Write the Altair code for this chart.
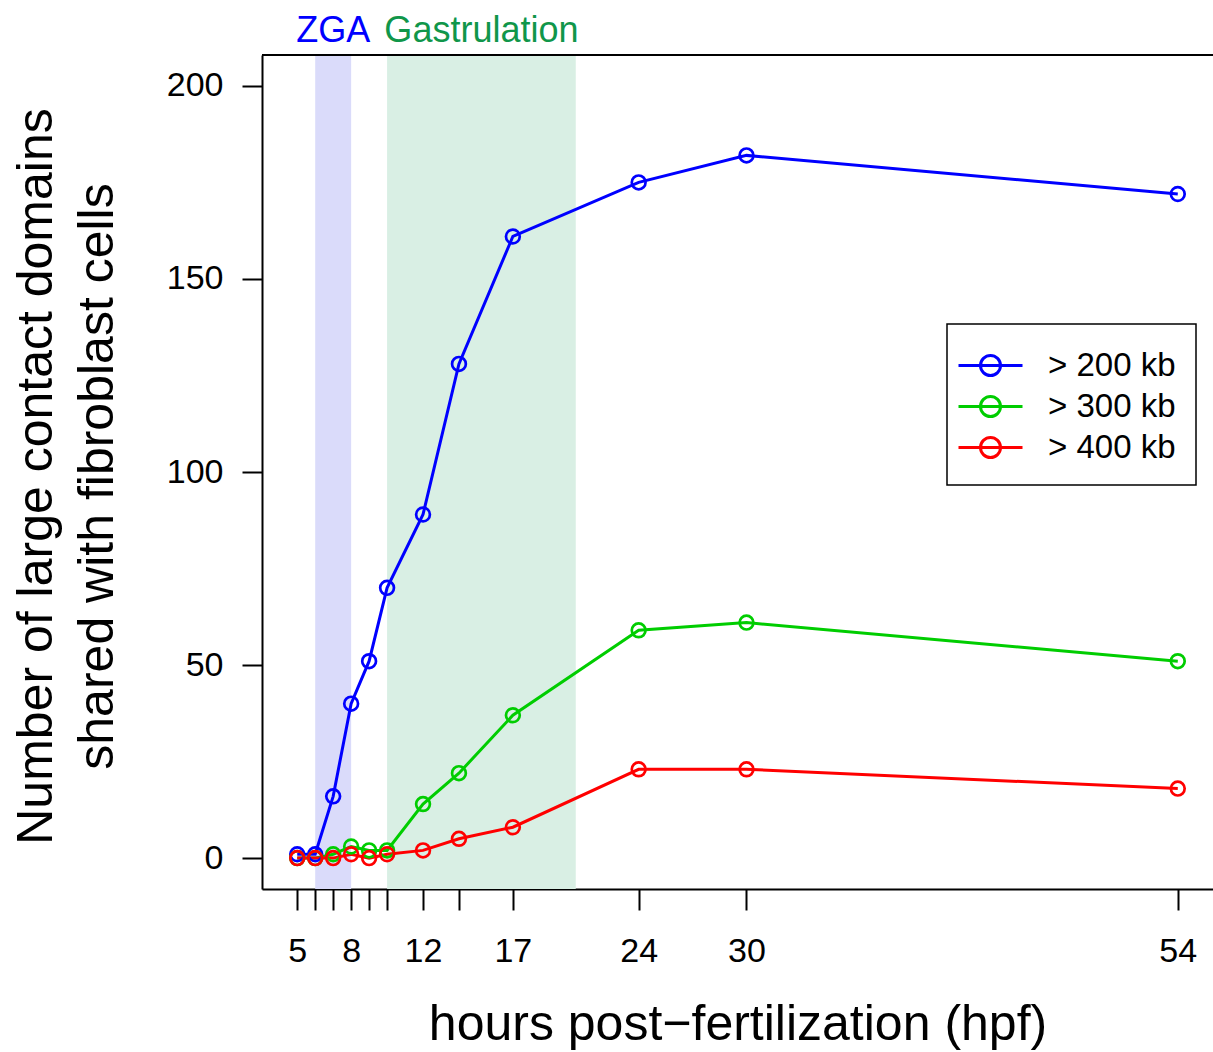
import json
import altair as alt
import pandas as pd

# ---- data ----
hours = [5, 6, 7, 8, 9, 10, 12, 14, 17, 24, 30, 54]
gt200 = [1, 1, 16, 40, 51, 70, 89, 128, 161, 175, 182, 172]
gt300 = [0, 0, 1, 3, 2, 2, 14, 22, 37, 59, 61, 51]
gt400 = [0, 0, 0, 1, 0, 1, 2, 5, 8, 23, 23, 18]
series_names = ["> 200 kb", "> 300 kb", "> 400 kb"]
labeled_hours = [5, 8, 12, 17, 24, 30, 54]
y_ticks = [0, 50, 100, 150, 200]

phase_names = ["ZGA", "Gastrulation"]
phase_start = [6, 10]
phase_end = [8, 20.5]

# ---- styles ----
series_colors = ["#0000FF", "#00CD00", "#FF0000"]
phase_fill = ["#DADBFA", "#D9EFE4"]
phase_text = ["#0000FF", "#10964A"]
FONT = "Liberation Sans"
W, H = 951, 834

rows = []
for name, vals in zip(series_names, [gt200, gt300, gt400]):
    for h, v in zip(hours, vals):
        rows.append({"hour": h, "count": v, "series": name})
df = pd.DataFrame(rows)

phases = pd.DataFrame({"phase": phase_names, "start": phase_start, "end": phase_end})

xscale = alt.Scale(domain=[3.04, 55.96], nice=False, zero=False)
yscale = alt.Scale(domain=[-8, 208], nice=False, zero=False)

label_expr = "indexof(%s, datum.value) >= 0 ? datum.label : ''" % json.dumps(labeled_hours)

xaxis = alt.Axis(
    values=hours, labelExpr=label_expr, grid=False,
    title="hours post\u2212fertilization (hpf)",
    titleFontSize=50, titleFont=FONT, titleFontWeight="normal", titleColor="black",
    titleBaseline="alphabetic", titleY=150,
    labelFontSize=34, labelFont=FONT, labelColor="black", labelPadding=24,
    labelOverlap=False, labelFlush=False,
    tickSize=21, tickWidth=2, tickColor="black",
    domainColor="black", domainWidth=2,
)
yaxis = alt.Axis(
    values=y_ticks, grid=False,
    title=["Number of large contact domains", "shared with fibroblast cells"],
    titleFontSize=50, titleFont=FONT, titleFontWeight="normal", titleColor="black",
    titleAngle=270, titleBaseline="alphabetic", titleAlign="center",
    titleX=-211, titleY=421, titleLineHeight=61,
    labelFontSize=34, labelFont=FONT, labelColor="black", labelPadding=19,
    labelOverlap=False, labelFlush=False,
    tickSize=20, tickWidth=2, tickColor="black",
    domainColor="black", domainWidth=2,
)

sym_path = ("M-1.6,0L1.6,0M0.5,0A0.5,0.5,0,1,1,-0.5,0"
            "A0.5,0.5,0,1,1,0.5,0")
legend = alt.Legend(
    title=None, orient="none", legendX=685, legendY=269,
    symbolType=sym_path, symbolSize=1600, symbolStrokeWidth=3,
    symbolFillColor="transparent", symbolOffset=2,
    labelFontSize=33, labelFont=FONT, labelColor="black", labelOffset=36,
    labelLimit=600, padding=20, rowPadding=2,
    strokeColor="black", fillColor="white",
)

layers = []
for name, fill, tcol in zip(phase_names, phase_fill, phase_text):
    base = alt.Chart(phases).transform_filter(alt.datum.phase == name)
    layers.append(
        base.mark_rect(color=fill).encode(
            x=alt.X("start:Q", scale=xscale, axis=xaxis),
            x2="end:Q",
            y=alt.value(0), y2=alt.value(H),
        )
    )
    layers.append(
        base.transform_calculate(mid="(datum.start + datum.end) / 2")
        .mark_text(fontSize=36, font=FONT, color=tcol, align="center", baseline="alphabetic")
        .encode(x=alt.X("mid:Q", scale=xscale), y=alt.value(-13), text="phase:N")
    )

lines = alt.Chart(df).mark_line(
    strokeWidth=3,
    point=alt.OverlayMarkDef(filled=False, size=190, strokeWidth=2.7, shape="circle"),
).encode(
    x=alt.X("hour:Q", scale=xscale, axis=xaxis),
    y=alt.Y("count:Q", scale=yscale, axis=yaxis),
    color=alt.Color("series:N", scale=alt.Scale(domain=series_names, range=series_colors),
                    legend=legend),
)
layers.append(lines)

top_rule = alt.Chart(pd.DataFrame({"k": [0]})).mark_rule(color="black", strokeWidth=2).encode(
    x=alt.value(0), x2=alt.value(W), y=alt.value(0)
)
layers.append(top_rule)

chart = alt.layer(*layers).properties(
    width=W, height=H,
    autosize=alt.AutoSizeParams(type="none"),
    padding={"left": 262, "top": 55, "right": 0, "bottom": 163},
).configure_view(stroke=None).configure(font=FONT, background="white").configure_legend(strokeWidth=1.5)

chart.save("out.html", embed_options={"renderer": "svg", "actions": False})
